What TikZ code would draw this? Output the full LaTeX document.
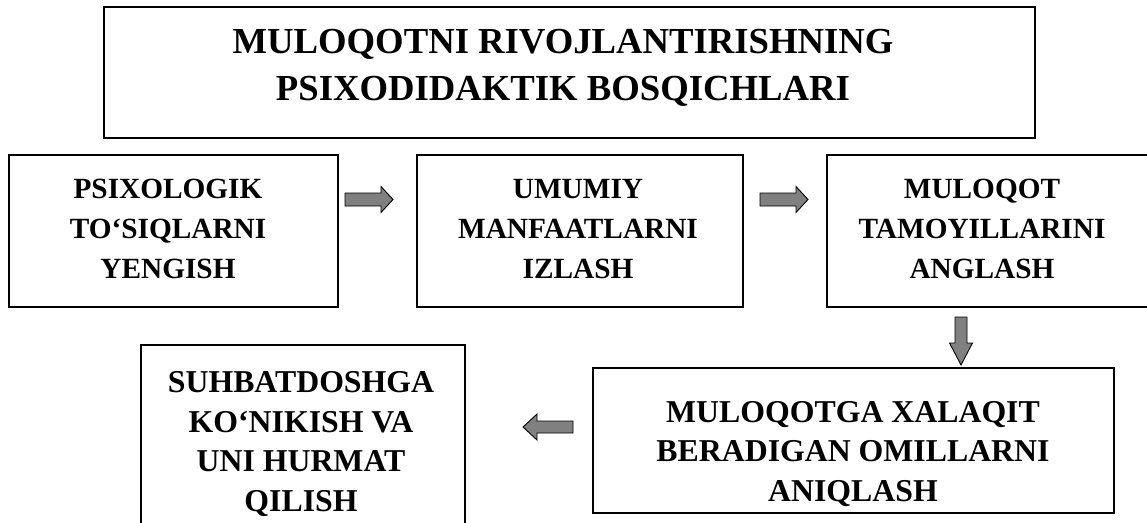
\documentclass[tikz,border=0pt]{standalone}
\usepackage{fontspec}
\setmainfont{Liberation Serif}
\definecolor{arrowgray}{RGB}{128,128,128}
\tikzset{
  frame/.style={draw=black, line width=2.8pt, rectangle, inner sep=0pt},
  titletext/.style={align=center, inner sep=0pt, anchor=base, font=\fontsize{36.7}{47}\selectfont\bfseries},
  boxtext/.style={align=center, inner sep=0pt, anchor=base, font=\fontsize{29.3}{40}\selectfont\bfseries},
  bigboxtext/.style={boxtext, font=\fontsize{31.8}{39.5}\selectfont\bfseries},
  arrowbody/.style={draw=black, line width=0.9pt, fill=arrowgray, line join=miter},
  pics/barrow/.style args={#1/#2/#3/#4}{code={
    \draw[arrowbody] (0,-#2/2) -- (#1-#4,-#2/2) -- (#1-#4,-#3/2) -- (#1,0)
      -- (#1-#4,#3/2) -- (#1-#4,#2/2) -- (0,#2/2) -- cycle;
  }}
}
\begin{document}
\begin{tikzpicture}[x=1pt, y=-1pt]
\useasboundingbox (0,0) rectangle (1147,522);
% frames
\node[frame, minimum width=931pt, minimum height=131pt] (title) at (569.5,72.5) {};
\node[frame, minimum width=329pt, minimum height=152pt] (b1) at (173.5,231) {};
\node[frame, minimum width=326pt, minimum height=152pt] (b2) at (580,231) {};
\node[frame, minimum width=333pt, minimum height=152pt] (b3) at (993.5,231) {};
\node[frame, minimum width=521pt, minimum height=145pt] (b4) at (853.5,440.5) {};
\node[frame, minimum width=324pt, minimum height=200pt] (b5) at (303,445) {};
% texts (anchor base = baseline of last line)
\node[titletext] (titlet) at (563,100) {MULOQOTNI RIVOJLANTIRISHNING\\PSIXODIDAKTIK BOSQICHLARI};
\node[boxtext] (b1t) at (168,278) {PSIXOLOGIK\\TO‘SIQLARNI\\YENGISH};
\node[boxtext] (b2t) at (578,278) {UMUMIY\\MANFAATLARNI\\IZLASH};
\node[boxtext] (b3t) at (982,278) {MULOQOT\\TAMOYILLARINI\\ANGLASH};
\node[bigboxtext] (b4t) at (853,501) {MULOQOTGA XALAQIT\\BERADIGAN OMILLARNI\\ANIQLASH};
\node[bigboxtext] (b5t) at (301,511) {SUHBATDOSHGA\\KO‘NIKISH VA\\UNI HURMAT\\QILISH};
% block arrows
\pic at (345,199.5) {barrow={48/13/26/12}};
\pic at (760,199.5) {barrow={48/13/26/12}};
\pic[rotate=-90] at (961,317) {barrow={48/12/23/22}};
\pic[rotate=180] at (573,427) {barrow={50/12/26/14}};
\end{tikzpicture}
\end{document}
